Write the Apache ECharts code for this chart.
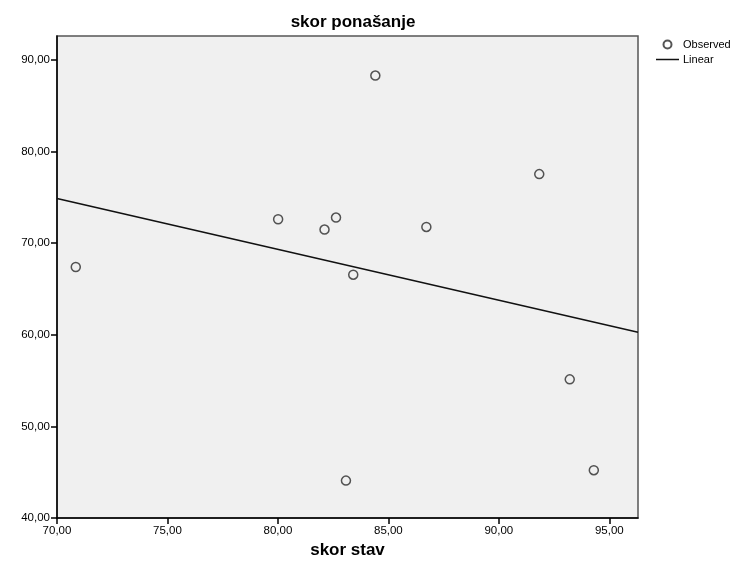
<!DOCTYPE html>
<html>
<head>
<meta charset="utf-8">
<title>skor ponašanje</title>
<script src="https://cdn.jsdelivr.net/npm/echarts@6/dist/echarts.min.js"></script>
<style>
  html, body { margin: 0; padding: 0; background: #ffffff; }
  #chart { width: 748px; height: 569px; }
</style>
</head>
<body>
<div id="chart"></div>
<script>
// Observed cases: skor stav (x) vs. skor ponašanje (y)
var skorStav = [70.85, 80.01, 82.11, 82.63, 83.41, 84.41, 86.72, 91.83, 93.21, 94.30, 83.08];
var skorPonasanje = [67.39, 72.60, 71.48, 72.79, 66.55, 88.28, 71.76, 77.53, 55.13, 45.22, 44.08];

// Linear fit, evaluated at both ends of the x axis
var linearX = [70, 96.3];
var linearY = [74.87, 60.27];

// Tick values shown on the axes
var xTicks = [70, 75, 80, 85, 90, 95];
var yTicks = [40, 50, 60, 70, 80, 90];

var FONT = '"Liberation Sans", Arial, sans-serif';

function fmt(v) {
  return v.toFixed(2).replace('.', ',');
}

var observed = skorStav.map(function (x, i) { return [x, skorPonasanje[i]]; });
var linear = linearX.map(function (x, i) { return [x, linearY[i]]; });

var chart = echarts.init(document.getElementById('chart'), null, { renderer: 'canvas' });

chart.setOption({
  animation: false,
  backgroundColor: '#ffffff',
  textStyle: { fontFamily: FONT },
  title: {
    text: 'skor ponašanje',
    left: 348,
    top: 9,
    textAlign: 'center',
    textStyle: { fontFamily: FONT, fontSize: 17, fontWeight: 'bold', color: '#000' }
  },
  legend: {
    orient: 'vertical',
    left: 656,
    top: 39,
    padding: 0,
    itemWidth: 23,
    itemHeight: 8,
    itemGap: 4,
    textStyle: { fontFamily: FONT, fontSize: 11, color: '#000', padding: [0, 0, 0, -1] },
    data: [
      { name: 'Observed' },
      { name: 'Linear', icon: 'path://M0,0H23V1.5H0Z' }
    ]
  },
  grid: {
    left: 57,
    top: 36,
    right: 110,
    bottom: 51,
    show: true,
    backgroundColor: '#f0f0f0',
    borderColor: '#555555',
    borderWidth: 1.5
  },
  xAxis: {
    type: 'value',
    min: 70,
    max: 96.3,
    name: 'skor stav',
    nameLocation: 'middle',
    nameGap: 21,
    nameTextStyle: { fontFamily: FONT, fontSize: 17, fontWeight: 'bold', color: '#000' },
    axisLine: { show: true, lineStyle: { color: '#000', width: 1.5 } },
    axisTick: { show: true, length: 6, customValues: xTicks, lineStyle: { color: '#000', width: 1.5 } },
    axisLabel: {
      customValues: xTicks,
      margin: 7,
      fontFamily: FONT,
      fontSize: 11.5,
      color: '#000',
      formatter: fmt
    },
    splitLine: { show: false }
  },
  yAxis: {
    type: 'value',
    min: 40,
    max: 92.6,
    axisLine: { show: true, lineStyle: { color: '#000', width: 1.5 } },
    axisTick: { show: true, length: 6, customValues: yTicks, lineStyle: { color: '#000', width: 1.5 } },
    axisLabel: {
      customValues: yTicks,
      margin: 7,
      fontFamily: FONT,
      fontSize: 11.5,
      color: '#000',
      formatter: fmt
    },
    splitLine: { show: false }
  },
  series: [
    {
      name: 'Observed',
      type: 'scatter',
      symbol: 'circle',
      symbolSize: 9,
      itemStyle: { color: 'rgba(0,0,0,0)', borderColor: '#2a2a2a', borderWidth: 1.5 },
      data: observed,
      z: 3
    },
    {
      name: 'Linear',
      type: 'line',
      symbol: 'none',
      lineStyle: { color: '#111111', width: 1.5 },
      itemStyle: { color: '#111111' },
      data: linear,
      z: 2
    }
  ]
});
</script>
</body>
</html>
